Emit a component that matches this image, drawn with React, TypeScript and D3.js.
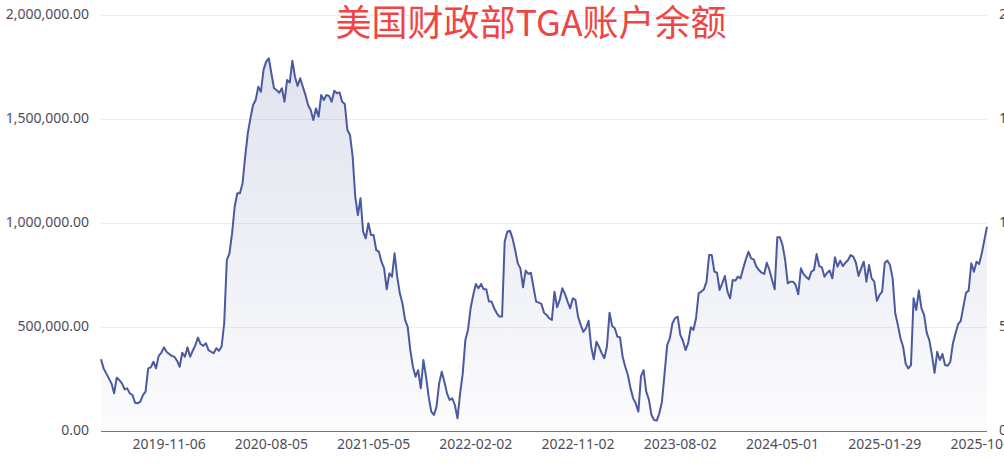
import * as d3 from 'd3';

// US Treasury TGA balance, weekly (Wednesday) readings, from 2019-05-08
const startDate = '2019-05-08';

const tgaValues = [
  345, 301, 277, 253, 229, 181, 256, 245, 229, 200, 205, 181, 173, 136, 133, 141, 173, 189, 301, 306,
  333, 301, 361, 376, 402, 381, 370, 361, 357, 338, 309, 376, 357, 402, 357, 386, 413, 449, 418, 409,
  422, 389, 381, 374, 398, 386, 405, 518, 822, 854, 950, 1078, 1143, 1143, 1191, 1319, 1431, 1503, 1567, 1591,
  1655, 1631, 1736, 1776, 1792, 1720, 1648, 1639, 1626, 1648, 1583, 1688, 1675, 1780, 1703, 1659, 1696, 1655, 1615, 1567,
  1543, 1495, 1551, 1511, 1615, 1591, 1615, 1611, 1583, 1636, 1624, 1628, 1583, 1572, 1447, 1423, 1319, 1126, 1038, 1119,
  958, 926, 999, 942, 942, 870, 862, 814, 782, 681, 758, 742, 854, 742, 662, 614, 534, 501, 389, 309,
  261, 293, 205, 341, 261, 165, 93, 77, 117, 229, 285, 237, 181, 149, 157, 125, 61, 181, 277, 437,
  486, 590, 654, 707, 686, 707, 681, 681, 622, 622, 590, 566, 550, 550, 910, 958, 963, 926, 870, 806,
  782, 691, 771, 755, 761, 691, 622, 617, 611, 569, 558, 542, 534, 670, 595, 630, 686, 659, 622, 590,
  638, 630, 550, 510, 477, 494, 530, 405, 345, 429, 405, 374, 350, 405, 569, 505, 494, 453, 450, 357,
  309, 269, 207, 157, 133, 93, 264, 293, 189, 152, 77, 53, 50, 85, 141, 277, 413, 446, 518, 542,
  550, 462, 434, 389, 422, 499, 486, 542, 662, 670, 681, 718, 846, 846, 766, 761, 678, 710, 745, 670,
  638, 726, 723, 742, 734, 782, 825, 862, 830, 825, 790, 774, 761, 755, 809, 774, 726, 681, 931, 931,
  894, 822, 710, 718, 718, 702, 657, 782, 755, 740, 729, 766, 774, 851, 793, 787, 742, 761, 771, 734,
  835, 790, 819, 793, 809, 822, 846, 838, 809, 745, 782, 814, 718, 798, 734, 718, 626, 654, 670, 809,
  819, 798, 734, 566, 510, 446, 405, 322, 301, 317, 638, 582, 675, 590, 558, 473, 437, 365, 280, 381,
  341, 370, 317, 314, 333, 422, 470, 514, 530, 598, 665, 675, 806, 766, 814, 803, 854, 918, 982,
].map(v => v * 1000);

const xTickLabels = [
  '2019-11-06', '2020-08-05', '2021-05-05', '2022-02-02', '2022-11-02',
  '2023-08-02', '2024-05-01', '2025-01-29', '2025-10-29',
];

const yTickValues = [0, 500000, 1000000, 1500000, 2000000];

const title = '美国财政部TGA账户余额';

const W = 1004;
const H = 465;
const plot = { left: 101, right: 987, top: 15, bottom: 431 };
const lineColor = '#4b5a9f';
const labelColor = '#4e4e5a';
const labelFont = '"Noto Sans", "DejaVu Sans", sans-serif';

const parse = d3.utcParse('%Y-%m-%d');

export default function App() {
  const t0 = parse(startDate) as Date;
  const data = tgaValues.map((v, i) => ({ date: d3.utcDay.offset(t0, 7 * i), value: v }));

  const x = d3.scaleUtc()
    .domain([data[0].date, data[data.length - 1].date])
    .range([plot.left, plot.right]);
  const y = d3.scaleLinear()
    .domain([0, 2000000])
    .range([plot.bottom, plot.top]);

  const line = d3.line<{ date: Date; value: number }>()
    .x(d => x(d.date))
    .y(d => y(d.value));
  const area = d3.area<{ date: Date; value: number }>()
    .x(d => x(d.date))
    .y0(plot.bottom)
    .y1(d => y(d.value));

  const fmt = d3.format(',.2f');
  const maxY = y(d3.max(tgaValues) as number);

  return (
    <svg
      width={W}
      height={H}
      style={{ position: 'fixed', left: 0, top: 0, background: '#fff' }}
    >
      <defs>
        <linearGradient id="areaFill" gradientUnits="userSpaceOnUse" x1="0" y1={maxY} x2="0" y2={plot.bottom}>
          <stop offset="0%" stopColor={lineColor} stopOpacity={0.17} />
          <stop offset="100%" stopColor={lineColor} stopOpacity={0.02} />
        </linearGradient>
      </defs>

      {/* grid */}
      {yTickValues.filter(v => v > 0).map(v => (
        <line key={v} x1={plot.left} x2={plot.right} y1={y(v) + 0.5} y2={y(v) + 0.5} stroke="#eceef4" strokeWidth={1} />
      ))}

      {/* left labels */}
      {yTickValues.map(v => (
        <text key={'l' + v} x={89} y={y(v)} textAnchor="end" dominantBaseline="middle"
          fontFamily={labelFont} fontSize={14} fill={labelColor}>
          {fmt(v)}
        </text>
      ))}

      {/* right labels (clipped by the frame) */}
      {yTickValues.map(v => (
        <text key={'r' + v} x={999} y={y(v)} textAnchor="start" dominantBaseline="middle"
          fontFamily={labelFont} fontSize={14} fill={labelColor}>
          {fmt(v)}
        </text>
      ))}

      <path d={area(data) ?? ''} fill="url(#areaFill)" />
      <path d={line(data) ?? ''} fill="none" stroke={lineColor} strokeWidth={2} strokeLinejoin="round" />

      {/* x axis */}
      <line x1={plot.left} x2={plot.right} y1={plot.bottom + 0.5} y2={plot.bottom + 0.5} stroke="#6b76a6" strokeWidth={1} />
      {xTickLabels.map(s => (
        <text key={s} x={x(parse(s) as Date)} y={445} textAnchor="middle" dominantBaseline="middle"
          fontFamily={labelFont} fontSize={14} fill={labelColor}>
          {s}
        </text>
      ))}

      <text x={531} y={26} textAnchor="middle" dominantBaseline="middle"
        fontFamily='"Noto Sans CJK SC", sans-serif' fontSize={36} fill="#f04545">
        {title}
      </text>
    </svg>
  );
}
